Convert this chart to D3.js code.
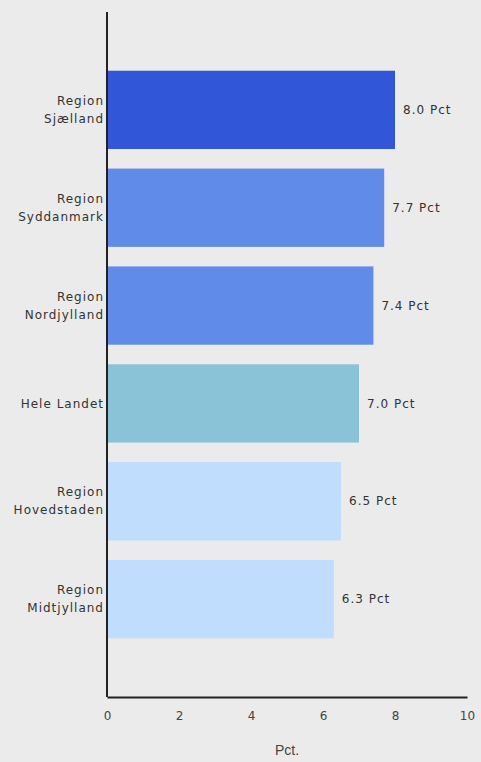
<!DOCTYPE html>
<html>
<head>
<meta charset="utf-8">
<script src="https://cdn.jsdelivr.net/npm/d3@7"></script>
<style>
  html, body { margin: 0; padding: 0; background: #ebebeb; }
  svg { display: block; }
  .lbl { font-family: "DejaVu Sans", sans-serif; font-size: 12px; fill: #333; letter-spacing: 1px; }
</style>
</head>
<body>
<script>
const regions = ["Region Sjælland", "Region Syddanmark", "Region Nordjylland", "Hele Landet", "Region Hovedstaden", "Region Midtjylland"];
const values = [8.0, 7.7, 7.4, 7.0, 6.5, 6.3];
const colors = ["#3157d8", "#608be9", "#608be9", "#8ac3d7", "#c0ddfd", "#c0ddfd"];
const xTicks = [0, 2, 4, 6, 8, 10];

const width = 481, height = 762;
const margin = { top: 12, right: 14, bottom: 65, left: 107 };

const svg = d3.select("body").append("svg")
  .attr("width", width)
  .attr("height", height);

const x = d3.scaleLinear().domain([0, 10]).range([margin.left, width - margin.right]);
const y = d3.scaleBand().domain(regions)
  .range([margin.top, height - margin.bottom])
  .paddingInner(0.2).paddingOuter(0.6);

// bars
svg.selectAll(".bar")
  .data(regions)
  .enter().append("rect")
  .attr("class", "bar")
  .attr("x", x(0))
  .attr("y", d => y(d))
  .attr("width", (d, i) => x(values[i]) - x(0))
  .attr("height", y.bandwidth())
  .attr("fill", (d, i) => colors[i]);

// value labels
svg.selectAll(".val")
  .data(regions)
  .enter().append("text")
  .attr("class", "lbl")
  .attr("x", (d, i) => x(values[i]) + 8)
  .attr("y", d => y(d) + y.bandwidth() / 2)
  .attr("dy", "0.35em")
  .text((d, i) => values[i].toFixed(1) + " Pct");

// category labels (wrapped after "Region")
const cat = svg.selectAll(".cat")
  .data(regions)
  .enter().append("text")
  .attr("class", "lbl")
  .attr("text-anchor", "end")
  .attr("x", margin.left - 3)
  .attr("y", d => y(d) + y.bandwidth() / 2);

cat.each(function(d) {
  const parts = d.startsWith("Region ") ? ["Region", d.slice(7)] : [d];
  const t = d3.select(this);
  parts.forEach((p, j) => {
    t.append("tspan")
      .attr("x", margin.left - 3)
      .attr("dy", j === 0 ? (parts.length === 1 ? "0.35em" : "-0.4em") : "1.5em")
      .text(p);
  });
});

// x axis
const xAxis = svg.append("g")
  .attr("transform", `translate(0,${height - margin.bottom})`)
  .call(d3.axisBottom(x).tickValues(xTicks).tickSize(0).tickPadding(14));
xAxis.select(".domain").attr("stroke", "#222").attr("stroke-width", 2);
xAxis.selectAll("text")
  .attr("font-family", "DejaVu Sans, sans-serif")
  .attr("font-size", 12)
  .attr("fill", "#444");

// y axis line
svg.append("line")
  .attr("x1", margin.left).attr("x2", margin.left)
  .attr("y1", margin.top).attr("y2", height - margin.bottom)
  .attr("stroke", "#222").attr("stroke-width", 2);

// axis title
svg.append("text")
  .attr("x", (x(0) + x(10)) / 2)
  .attr("y", 755)
  .attr("text-anchor", "middle")
  .attr("font-family", "Liberation Sans, Arial, sans-serif")
  .attr("font-size", 14)
  .attr("fill", "#444")
  .text("Pct.");
</script>
</body>
</html>
